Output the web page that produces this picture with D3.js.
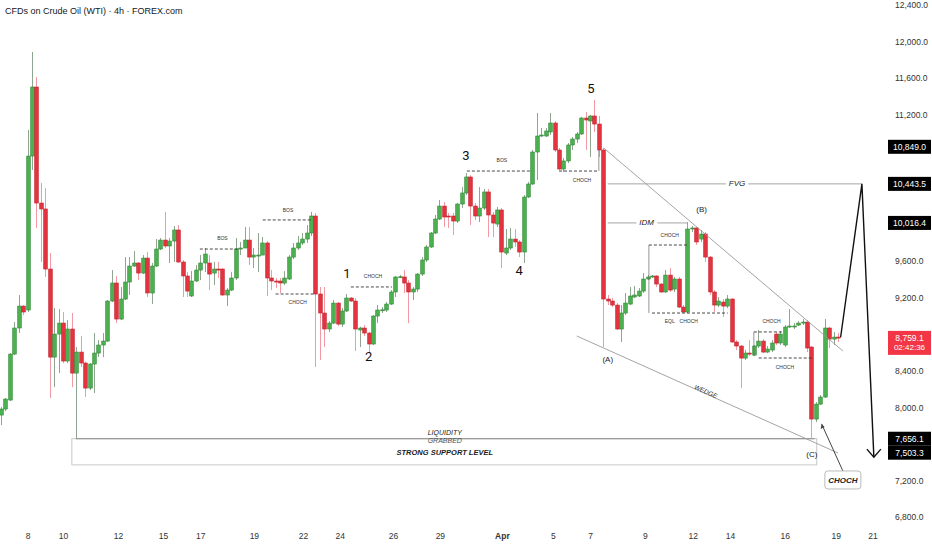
<!DOCTYPE html>
<html><head><meta charset="utf-8">
<script src="https://cdn.jsdelivr.net/npm/d3@7"></script>
<style>
body{margin:0;background:#fff;}
svg{display:block;font-family:"Liberation Sans",Arial,sans-serif;}
</style></head><body>
<svg id="c" width="932" height="550"></svg>
<script>
// ---------- DATA ----------
const opens=[7915,7981,8079,8582,8867,9107,9064,10748,11503,10234,10169,9512,8549,8801,8921,8506,8856,8374,8604,8484,8210,8473,8593,8681,8724,9162,9359,8965,9184,9370,9545,9578,9468,9632,9250,9545,9731,9829,9764,9818,9939,9589,9436,9217,9381,9501,9578,9578,9468,9512,9512,9228,9282,9414,9731,9742,9829,9643,9654,9665,9797,9414,9381,9381,9359,9403,9643,9742,9797,9840,9906,10092,9239,9031,8856,8921,9140,8910,9053,9195,9162,8845,8867,8812,8692,8998,9060,9064,9129,9261,9420,9425,9359,9261,9293,9457,9611,9753,9906,10059,10201,10092,10092,10037,10223,10344,10519,10201,10092,10179,10355,10103,10004,10158,9687,9742,9840,9808,9698,10300,10442,10792,10967,10967,11011,11109,10814,10606,10694,10869,10934,10989,11164,11131,11186,11098,10814,9184,9162,9118,8856,9031,9129,9206,9217,9271,9403,9425,9436,9348,9261,9446,9293,9403,9096,9042,9950,9961,9840,9895,9643,9261,9118,9151,9107,9184,8714,8670,8538,8593,8571,8670,8724,8604,8626,8801,8703,8681,8878,8884,8899,8921,8932,8659,7871,8035,8112,8867,8746,8768];
const highs=[8002,8101,8593,8932,9228,9118,11033,11886,11613,10453,10398,9687,9085,9075,9042,8954,9031,8659,8779,8500,8484,8812,8735,8812,9173,9501,9436,9315,9643,9643,9709,9589,9665,9698,9578,9840,9851,10136,9851,9983,9993,9611,9479,9490,9556,9665,9742,9665,9589,9589,9523,9304,9479,9851,9808,9972,9972,9742,9906,9862,9818,9501,9414,9414,9490,9665,9797,9873,9906,9993,10136,10125,9315,9315,8943,9173,9150,9085,9239,9206,9195,8880,8899,8823,9009,9118,9096,9151,9282,9436,9446,9501,9392,9315,9468,9643,9775,9917,10103,10267,10245,10125,10125,10234,10409,10562,10540,10234,10409,10387,10387,10136,10190,10179,9950,9961,9950,9829,10322,10464,10814,11219,11055,11055,11219,11131,10836,10727,10891,10956,11011,11175,11230,11197,11361,11186,10836,9228,9195,9140,9118,9250,9315,9326,9304,9468,9446,9446,9446,9359,9501,9523,9425,9425,9118,10026,9983,9972,9939,9917,9654,9282,9206,9184,9228,9195,8735,8681,8626,8735,8681,8845,8746,8670,8735,8823,8834,8899,9075,8921,8943,8965,8954,8670,8057,8134,8965,8878,8823,8812];
const lows=[7805,7959,8068,8571,8812,9009,9042,10595,9961,9589,9425,8101,8221,8374,8484,8484,8221,7656,8440,8112,8188,8156,8549,8549,8714,9151,8921,8954,9173,9228,9534,9392,9457,9206,9129,9534,9720,9742,9578,9589,9578,9206,9206,9206,9370,9392,9479,9282,9337,9414,9220,9107,9271,9392,9665,9742,9556,9523,9479,9665,9217,9282,9304,9250,9337,9392,9622,9720,9775,9797,9873,8440,8517,8659,8823,8910,8889,8878,9042,9151,8615,8659,8779,8604,8681,8921,9031,9042,9118,9206,9414,9250,8921,9173,9261,9436,9589,9742,9895,10048,9972,9961,9884,10015,10179,10322,9993,10048,10026,10158,9862,9862,9972,9523,9665,9720,9753,9643,9578,10289,10431,10486,10956,10956,10978,10792,10595,10573,10672,10814,10891,10978,10814,10737,11011,10737,8659,9118,9096,8845,8714,9009,9118,9195,9206,9250,9392,9414,9315,9250,9250,9261,9261,9085,9031,9031,9917,9775,9808,9589,9228,9042,9096,8987,9085,8703,8626,8210,8517,8560,8560,8648,8593,8593,8604,8681,8681,8659,8867,8856,8889,8899,8604,7656,7838,8024,8101,8648,8681,8714];
const closes=[7981,8090,8582,8867,9107,9042,10748,11503,10234,10169,9512,8549,8801,8921,8506,8856,8374,8604,8484,8210,8473,8593,8681,8724,9162,9359,8965,9184,9370,9545,9578,9468,9632,9250,9545,9731,9829,9764,9818,9939,9589,9436,9271,9381,9501,9578,9676,9457,9512,9501,9228,9282,9414,9731,9742,9829,9643,9665,9665,9797,9414,9381,9370,9359,9414,9643,9742,9797,9840,9906,10092,9239,9031,8856,8921,9140,8910,9053,9195,9162,8856,8867,8812,8692,8998,9064,9066,9129,9261,9425,9428,9359,9261,9293,9457,9611,9753,9906,10059,10201,10081,10081,10037,10223,10344,10519,10201,10092,10179,10355,10103,10015,10158,9698,9742,9840,9808,9698,10300,10442,10792,10967,10978,11022,11109,10814,10606,10694,10869,10934,10989,11164,11142,11186,11098,10814,9184,9162,9118,8856,9031,9140,9217,9228,9271,9403,9425,9436,9348,9261,9446,9282,9403,9096,9042,9950,9961,9808,9895,9643,9261,9118,9162,9107,9184,8714,8670,8538,8593,8582,8670,8724,8604,8637,8703,8703,8801,8878,8889,8889,8921,8932,8648,7871,8035,8112,8867,8746,8768,8759.1];
const timeTickPos=[6,14,26.4,36.6,45,57.1,68.2,76.5,88.5,99.1,113.1,124.6,133,145.4,156.2,164.6,177,188.5,196.8];
const timeTickLabels=["8","10","12","15","17","19","22","24","26","29","Apr","5","7","9","12","14","16","19","21"];
const priceTicks=[12400,12000,11600,11200,9600,9200,8400,8000,7200,6800];
const levelLabels=[10849.0,10443.5,10016.4,7656.1,7503.3];
const lastPrice=8759.1;
const countdown="02:42:36";
const titleText="CFDs on Crude Oil (WTI) · 4h · FOREX.com";

// annotations in data units (candle index, price)
const dashedSegments=[
  [[44.9,9731],[53.9,9731]],
  [[59.1,10049],[70.2,10049]],
  [[62,9239],[71.1,9239]],
  [[79,9316],[88.3,9316]],
  [[105.2,10584],[119.9,10584]],
  [[126,10584],[135,10584]],
  [[146.3,9775],[155.1,9775]],
  [[147,9031],[164.1,9031]],
  [[170,8824],[176.7,8824]],
  [[171.1,8539],[183.1,8539]]
];
const smallLabels=[
  {t:"BOS",i:50,p:9840},{t:"BOS",i:64.8,p:10147},{t:"CHOCH",i:67,p:9141},
  {t:"CHOCH",i:84,p:9425},{t:"BOS",i:113.1,p:10694},{t:"CHOCH",i:131.2,p:10475},
  {t:"CHOCH",i:151,p:9874},{t:"EQL",i:151,p:8933},{t:"CHOCH",i:155.3,p:8933},
  {t:"CHOCH",i:174,p:8933},{t:"CHOCH",i:177,p:8430}
];
const waveLabels=[
  {t:"1",i:78.1,p:9447},{t:"2",i:83,p:8539},{t:"3",i:105,p:10738},
  {t:"4",i:117,p:9480},{t:"5",i:133.2,p:11470}
];
const pointLabels=[{t:"(A)",i:137,p:8517},{t:"(B)",i:158.2,p:10158},{t:"(C)",i:183.1,p:7478}];
const solidThin=[
  [[135,10814],[135,10584]],
  [[146.3,9775],[146.3,9031]],
  [[170,8824],[170,8560]]
];
const wedgeUpper=[[136.1,10836],[190.1,8616]];
const wedgeLower=[[130,8780],[189,7500]];
const fvgLine=[[137,10443.5],[194.4,10443.5]];
const idmLine=[[137,10016.4],[154.9,10016.4]];
const liquidityLine=[[16.9,7656.1],[183.7,7656.1]];
const supportBox={i0:16,i1:184.2,p0:7656.1,p1:7370};
const projection=[[189.6,8769],[194.4,10443.5],[197.1,7455]];
const chochCallout={i:190.1,p:7205,ti:185.3,tp:7818};

// ---------- CHART ----------
const svg=d3.select("#c");
const x=d3.scaleLinear().domain([0,189]).range([1,838]);
const y=d3.scaleLinear().domain([6800,12400]).range([517,5]);
const candles=opens.map((o,i)=>({i,o,h:highs[i],l:lows[i],c:closes[i]}));
const up="#4caf50", upStroke="#2f8a35", dn="#e2333f", dnStroke="#c4202c";
const line=d3.line().x(d=>x(d[0])).y(d=>y(d[1]));

// support box & liquidity (drawn under candles)
svg.append("rect").attr("x",x(supportBox.i0)).attr("y",y(supportBox.p0))
  .attr("width",x(supportBox.i1)-x(supportBox.i0)).attr("height",y(supportBox.p1)-y(supportBox.p0))
  .attr("fill","none").attr("stroke","#c8c8c8").attr("stroke-width",1);
svg.append("path").attr("d",line(liquidityLine)).attr("stroke","#8a8a8a").attr("stroke-width",1).attr("fill","none");

// candles
const g=svg.append("g");
g.selectAll("line.w").data(candles).join("line").attr("class","w")
  .attr("x1",d=>Math.round(x(d.i))+0.5).attr("x2",d=>Math.round(x(d.i))+0.5)
  .attr("y1",d=>y(d.h)).attr("y2",d=>y(d.l))
  .attr("stroke",d=>d.c>=d.o?"#8fa58f":"#f29aa3").attr("stroke-width",1);
g.selectAll("rect.b").data(candles).join("rect").attr("class","b")
  .attr("x",d=>Math.round(x(d.i))-1.3).attr("width",3.6)
  .attr("y",d=>y(Math.max(d.o,d.c)))
  .attr("height",d=>Math.max(1,Math.abs(y(d.o)-y(d.c))))
  .attr("fill",d=>d.c>=d.o?up:dn).attr("stroke",d=>d.c>=d.o?upStroke:dnStroke).attr("stroke-width",0.6);

// dashed structure lines
svg.selectAll("path.ds").data(dashedSegments).join("path").attr("class","ds")
  .attr("d",line).attr("stroke","#333").attr("stroke-width",0.9).attr("stroke-dasharray","3,2").attr("fill","none");
svg.selectAll("path.st").data(solidThin).join("path").attr("class","st")
  .attr("d",line).attr("stroke","#666").attr("stroke-width",0.7).attr("fill","none");
svg.selectAll("text.sl").data(smallLabels).join("text").attr("class","sl")
  .attr("x",d=>x(d.i)).attr("y",d=>y(d.p)).attr("text-anchor","middle").attr("dominant-baseline","middle")
  .attr("font-size",5).attr("fill","#333").text(d=>d.t);

// wedge lines
[wedgeUpper,wedgeLower].forEach(s=>svg.append("path").attr("d",line(s)).attr("stroke","#9a9a9a").attr("stroke-width",0.9).attr("fill","none"));
const ang=Math.atan2(y(wedgeLower[1][1])-y(wedgeLower[0][1]),x(wedgeLower[1][0])-x(wedgeLower[0][0]))*180/Math.PI;
svg.append("text").attr("transform",`translate(${x(159.1)},${y(8167)}) rotate(${ang})`)
  .attr("text-anchor","middle").attr("dominant-baseline","middle").attr("font-size",6.5).attr("font-style","italic").attr("fill","#333").text("WEDGE");

// FVG / IDM
[[fvgLine,"FVG",166.2],[idmLine,"IDM",145.8]].forEach(([s,t,ti])=>{
  svg.append("path").attr("d",line(s)).attr("stroke","#9a9a9a").attr("stroke-width",0.9).attr("fill","none");
  const tx=svg.append("text").attr("x",x(ti)).attr("y",y(s[0][1])).attr("text-anchor","middle").attr("dominant-baseline","middle")
    .attr("font-size",8).attr("font-style","italic").attr("fill","#222").text(t);
  const bb=tx.node().getBBox();
  svg.insert("rect","text:last-of-type").attr("x",bb.x-3).attr("y",bb.y).attr("width",bb.width+6).attr("height",bb.height).attr("fill","#fff");
});
svg.selectAll("text").filter(function(){return this.textContent==="FVG"||this.textContent==="IDM";}).raise();

// wave labels
svg.selectAll("text.wv").data(waveLabels).join("text").attr("class","wv")
  .attr("x",d=>x(d.i)).attr("y",d=>y(d.p)).attr("text-anchor","middle").attr("dominant-baseline","middle")
  .attr("font-size",13).attr("font-family","Roboto,'DejaVu Sans',sans-serif").attr("fill","#111").text(d=>d.t);
svg.selectAll("text.pl").data(pointLabels).join("text").attr("class","pl")
  .attr("x",d=>x(d.i)).attr("y",d=>y(d.p)).attr("text-anchor","middle").attr("dominant-baseline","middle")
  .attr("font-size",8).attr("fill","#222").text(d=>d.t);

// liquidity texts
const lx=x(100.2);
svg.append("text").attr("x",lx).attr("y",y(7719)).attr("text-anchor","middle").attr("dominant-baseline","middle").attr("font-size",7).attr("font-style","italic").attr("fill","#222").text("LIQUIDITY");
svg.append("text").attr("x",lx).attr("y",y(7632)).attr("text-anchor","middle").attr("dominant-baseline","middle").attr("font-size",7).attr("font-style","italic").attr("fill","#555").text("GRABBED");
svg.append("text").attr("x",lx).attr("y",y(7503.3)).attr("text-anchor","middle").attr("dominant-baseline","middle").attr("font-size",7.5).attr("font-style","italic").attr("font-weight","bold").attr("fill","#222").text("STRONG SUPPORT LEVEL");

// projection arrow
svg.append("path").attr("d",line(projection)).attr("stroke","#111").attr("stroke-width",1.4).attr("fill","none");
const tip=projection[2];
svg.append("path").attr("d",`M${x(tip[0])-7},${y(tip[1])-8}L${x(tip[0])},${y(tip[1])}L${x(tip[0])+7},${y(tip[1])-8}`)
  .attr("stroke","#111").attr("stroke-width",1.4).attr("fill","none");

// CHOCH callout
const cx=x(chochCallout.i), cy=y(chochCallout.p);
svg.append("path").attr("d",`M${cx},${cy-9}L${x(chochCallout.ti)},${y(chochCallout.tp)}`).attr("stroke","#444").attr("stroke-width",1).attr("fill","none");
svg.append("path").attr("d",`M${x(chochCallout.ti)},${y(chochCallout.tp)}l-1,5l4,-2z`).attr("fill","#444");
svg.append("rect").attr("x",cx-18).attr("y",cy-9).attr("width",36).attr("height",18).attr("rx",3)
  .attr("fill","#fff").attr("stroke","#bbb");
svg.append("text").attr("x",cx).attr("y",cy+0.5).attr("text-anchor","middle").attr("dominant-baseline","middle")
  .attr("font-size",8).attr("font-style","italic").attr("font-weight","bold").attr("fill","#222").text("CHOCH");

// ---------- AXES ----------
const fmt=d3.format(",.1f");
const yAxis=d3.axisRight(y).tickValues(priceTicks).tickFormat(fmt).tickSize(0).tickPadding(0);
const ya=svg.append("g").attr("transform","translate(895,0)").call(yAxis);
ya.select(".domain").remove();
ya.selectAll("text").attr("font-size",8.5).attr("fill","#333").attr("font-family","'Liberation Sans',Arial,sans-serif");

levelLabels.forEach(v=>{
  svg.append("rect").attr("x",888).attr("y",y(v)-7).attr("width",43).attr("height",14).attr("fill","#000");
  svg.append("text").attr("x",909.5).attr("y",y(v)).attr("text-anchor","middle").attr("dominant-baseline","central")
    .attr("font-size",8.5).attr("fill","#fff").text(fmt(v));
});
svg.append("rect").attr("x",888).attr("y",y(lastPrice)-7).attr("width",43).attr("height",24).attr("fill","#f23645");
svg.append("text").attr("x",909.5).attr("y",y(lastPrice)).attr("text-anchor","middle").attr("dominant-baseline","central")
  .attr("font-size",8.5).attr("fill","#fff").text(fmt(lastPrice));
svg.append("text").attr("x",909.5).attr("y",y(lastPrice)+10).attr("text-anchor","middle").attr("dominant-baseline","central")
  .attr("font-size",8).attr("fill","#fff").text(countdown);

const xAxis=d3.axisBottom(x).tickValues(timeTickPos).tickFormat((d,k)=>timeTickLabels[k]).tickSize(0).tickPadding(0);
const xa=svg.append("g").attr("transform","translate(0,533)").call(xAxis);
xa.select(".domain").remove();
xa.selectAll("text").attr("font-size",8.5).attr("fill","#333").attr("font-weight",(d,k)=>timeTickLabels[k]==="Apr"?"bold":"normal");

// title
svg.append("text").attr("x",5).attr("y",12).attr("dominant-baseline","middle").attr("font-size",9).attr("fill","#131722").text(titleText);
</script>
</body></html>
